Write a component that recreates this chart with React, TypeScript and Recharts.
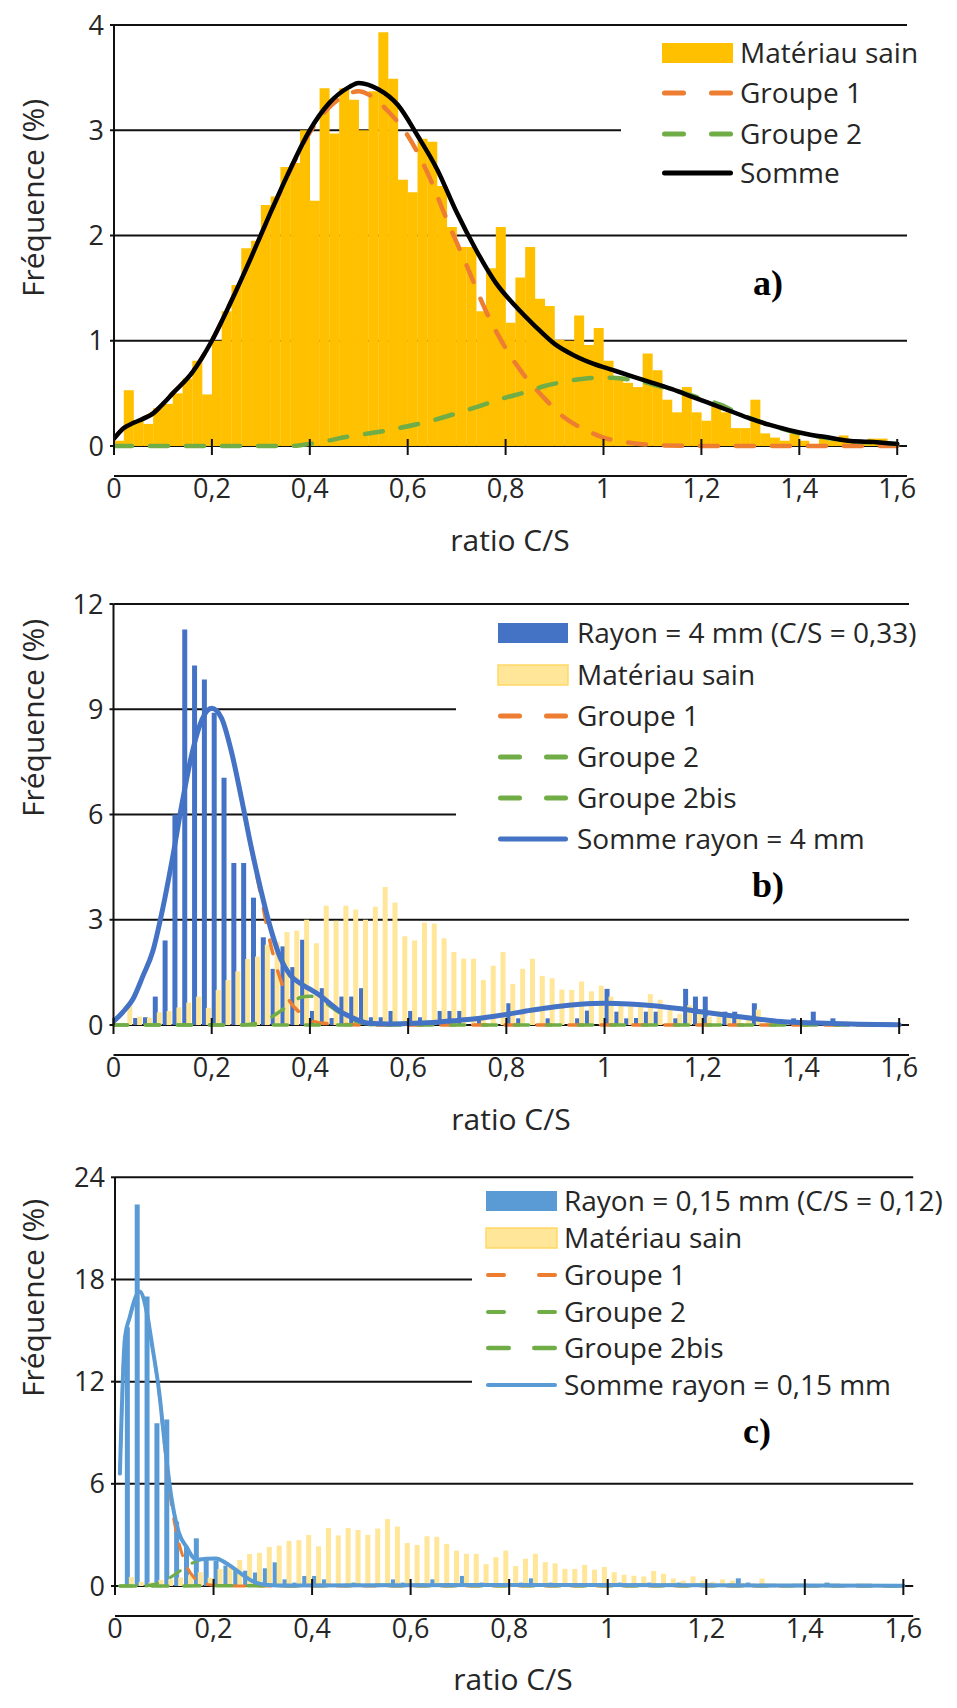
import React from 'react';
import {
  ComposedChart,
  Bar,
  Line,
  XAxis,
  YAxis,
  CartesianGrid,
  Legend,
} from 'recharts';

/* ------------------------------------------------------------------ */
/*  Data                                                               */
/* ------------------------------------------------------------------ */
// bin centres of the C/S histograms (bin width 0.02)
const BINS = [
  0.01, 0.03, 0.05, 0.07, 0.09, 0.11, 0.13, 0.15, 0.17, 0.19,
  0.21, 0.23, 0.25, 0.27, 0.29, 0.31, 0.33, 0.35, 0.37, 0.39,
  0.41, 0.43, 0.45, 0.47, 0.49, 0.51, 0.53, 0.55, 0.57, 0.59,
  0.61, 0.63, 0.65, 0.67, 0.69, 0.71, 0.73, 0.75, 0.77, 0.79,
  0.81, 0.83, 0.85, 0.87, 0.89, 0.91, 0.93, 0.95, 0.97, 0.99,
  1.01, 1.03, 1.05, 1.07, 1.09, 1.11, 1.13, 1.15, 1.17, 1.19,
  1.21, 1.23, 1.25, 1.27, 1.29, 1.31, 1.33, 1.35, 1.37, 1.39,
  1.41, 1.43, 1.45, 1.47, 1.49, 1.51, 1.53, 1.55, 1.57, 1.59,
];
// empty slot so the band axis reaches 1.62 like the numeric one
const PAD_BIN = 1.61;

const SAIN = [
  0.05, 0.53, 0.24, 0.21, 0.36, 0.4, 0.5, 0.64, 0.81, 0.49,
  1.0, 1.28, 1.53, 1.88, 1.95, 2.29, 2.37, 2.65, 2.69, 3.0,
  2.33, 3.4, 2.97, 3.4, 3.29, 3.0, 3.37, 3.93, 3.49, 2.53,
  2.41, 2.92, 2.89, 2.47, 2.08, 1.89, 1.89, 1.28, 1.69, 2.08,
  1.17, 1.6, 1.89, 1.4, 1.33, 1.01, 1.0, 1.24, 0.96, 1.12,
  0.81, 0.66, 0.6, 0.56, 0.88, 0.72, 0.44, 0.32, 0.56, 0.32,
  0.24, 0.39, 0.32, 0.17, 0.17, 0.44, 0.12, 0.08, 0.05, 0.12,
  0.05, 0.02, 0.08, 0.05, 0.1, 0.03, 0.03, 0.07, 0.07, 0.02,
];

const RAYON_4 = [
  0, 0, 0.2, 0.22, 0.81, 2.41, 6.0, 11.27, 10.25, 9.85,
  8.9, 7.05, 4.62, 4.62, 3.63, 2.5, 1.6, 2.24, 1.65, 2.43,
  0.4, 1.05, 0.2, 0.81, 0.81, 1.05, 0.22, 0.22, 0.4, 0,
  0.4, 0.22, 0, 0.4, 0.4, 0.4, 0, 0.2, 0, 0,
  0.62, 0.19, 0, 0, 0.19, 0, 0, 0.19, 0.41, 0,
  1.03, 0.38, 0.19, 0.2, 0.38, 0.38, 0, 0.19, 1.03, 0.81,
  0.81, 0, 0.38, 0.38, 0, 0.62, 0, 0, 0, 0.19,
  0, 0.38, 0, 0.19, 0, 0, 0, 0, 0, 0,
];

const RAYON_015 = [
  0, 15.2, 22.4, 17.0, 9.55, 9.78, 3.78, 2.31, 2.8, 1.6,
  1.5, 1.2, 1.0, 0.9, 0.8, 1.04, 1.39, 0.39, 0.2, 0.59,
  0.59, 0.39, 0, 0, 0.2, 0, 0, 0, 0.39, 0.2,
  0, 0, 0.39, 0, 0, 0.59, 0, 0.2, 0, 0,
  0, 0.2, 0.45, 0, 0.2, 0, 0, 0, 0, 0,
  0, 0.2, 0, 0, 0.2, 0, 0, 0.2, 0, 0,
  0, 0, 0, 0.45, 0.2, 0, 0, 0, 0, 0,
  0, 0, 0.2, 0, 0, 0, 0, 0, 0, 0,
];

type Pt = [number, number];

/* fitted curves, panel a */
const SOMME_A: Pt[] = [
  [0, 0.07], [0.02, 0.17], [0.04, 0.22], [0.06, 0.26], [0.08, 0.31], [0.1, 0.4],
  [0.12, 0.5], [0.16, 0.7], [0.2, 1.0], [0.24, 1.38], [0.28, 1.79], [0.32, 2.22],
  [0.36, 2.63], [0.4, 3.0], [0.44, 3.26], [0.48, 3.41], [0.5, 3.45], [0.54, 3.39],
  [0.58, 3.24], [0.62, 2.95], [0.66, 2.63], [0.7, 2.22], [0.74, 1.86], [0.78, 1.55],
  [0.82, 1.33], [0.86, 1.14], [0.9, 0.97], [0.94, 0.86], [0.98, 0.78], [1.02, 0.72],
  [1.06, 0.66], [1.1, 0.6], [1.14, 0.54], [1.18, 0.47], [1.22, 0.4], [1.26, 0.33],
  [1.3, 0.26], [1.34, 0.2], [1.38, 0.15], [1.42, 0.11], [1.46, 0.08], [1.5, 0.05],
  [1.54, 0.04], [1.6, 0.02],
];
const GROUPE1_A: Pt[] = [
  [0, 0.07], [0.02, 0.17], [0.04, 0.22], [0.06, 0.26], [0.08, 0.31], [0.1, 0.4],
  [0.12, 0.5], [0.16, 0.7], [0.2, 1.0], [0.24, 1.38], [0.28, 1.79], [0.32, 2.21],
  [0.36, 2.62], [0.4, 2.98], [0.44, 3.22], [0.48, 3.35], [0.5, 3.37], [0.52, 3.34],
  [0.56, 3.18], [0.6, 2.95], [0.64, 2.6], [0.68, 2.15], [0.72, 1.72], [0.76, 1.28],
  [0.8, 0.93], [0.84, 0.66], [0.88, 0.45], [0.92, 0.27], [0.96, 0.16], [1.0, 0.08],
  [1.04, 0.04], [1.1, 0.01], [1.2, 0], [1.6, 0],
];
const GROUPE2_A: Pt[] = [
  [0, 0], [0.36, 0], [0.4, 0.02], [0.48, 0.09], [0.56, 0.15], [0.64, 0.23],
  [0.72, 0.34], [0.76, 0.4], [0.8, 0.46], [0.84, 0.51], [0.88, 0.57], [0.92, 0.61],
  [0.96, 0.64], [1.0, 0.65], [1.04, 0.64], [1.08, 0.61], [1.12, 0.56], [1.16, 0.51],
  [1.2, 0.45], [1.24, 0.39], [1.28, 0.3], [1.32, 0.23], [1.36, 0.17], [1.4, 0.12],
  [1.44, 0.09], [1.5, 0.05], [1.6, 0.02],
];

/* panel b */
const SOMME_B: Pt[] = [
  [0, 0.1], [0.02, 0.38], [0.04, 0.75], [0.06, 1.4], [0.08, 2.1], [0.1, 3.3],
  [0.12, 4.75], [0.14, 6.35], [0.16, 7.75], [0.18, 8.7], [0.2, 9.03], [0.22, 8.75],
  [0.24, 7.8], [0.26, 6.5], [0.28, 5.1], [0.3, 3.85], [0.32, 2.75], [0.34, 1.9],
  [0.36, 1.42], [0.38, 1.19], [0.4, 1.02], [0.42, 0.85], [0.44, 0.62], [0.46, 0.4],
  [0.48, 0.25], [0.5, 0.13], [0.52, 0.05], [0.56, 0.03], [0.6, 0.04], [0.65, 0.07],
  [0.7, 0.13], [0.75, 0.2], [0.8, 0.3], [0.85, 0.42], [0.9, 0.52], [0.95, 0.59],
  [1.0, 0.62], [1.05, 0.6], [1.1, 0.55], [1.15, 0.47], [1.2, 0.37], [1.25, 0.28],
  [1.3, 0.19], [1.35, 0.11], [1.4, 0.07], [1.45, 0.05], [1.5, 0.03], [1.6, 0.01],
];
const GROUPE1_B: Pt[] = [
  [0, 0.1], [0.02, 0.38], [0.04, 0.75], [0.06, 1.4], [0.08, 2.1], [0.1, 3.3],
  [0.12, 4.75], [0.14, 6.35], [0.16, 7.75], [0.18, 8.7], [0.2, 9.03], [0.22, 8.75],
  [0.24, 7.8], [0.26, 6.5], [0.28, 5.05], [0.3, 3.7], [0.32, 2.3], [0.34, 1.3],
  [0.36, 0.65], [0.38, 0.35], [0.4, 0.14], [0.42, 0.06], [0.45, 0.03], [0.5, 0],
  [1.6, 0],
];
const GROUPE2_B: Pt[] = [
  [0, 0], [0.26, 0], [0.3, 0.08], [0.33, 0.3], [0.36, 0.6], [0.38, 0.78],
  [0.4, 0.82], [0.42, 0.75], [0.44, 0.55], [0.46, 0.35], [0.48, 0.18], [0.5, 0.08],
  [0.53, 0.02], [0.56, 0], [1.6, 0],
];
const GROUPE2BIS_B: Pt[] = [
  [0, 0], [0.5, 0], [0.55, 0.02], [0.6, 0.04], [0.65, 0.07], [0.7, 0.13],
  [0.75, 0.2], [0.8, 0.3], [0.85, 0.42], [0.9, 0.52], [0.95, 0.59], [1.0, 0.62],
  [1.05, 0.6], [1.1, 0.55], [1.15, 0.47], [1.2, 0.37], [1.25, 0.28], [1.3, 0.19],
  [1.35, 0.11], [1.4, 0.07], [1.45, 0.05], [1.5, 0.03], [1.6, 0.01],
];

/* panel c */
const SOMME_C: Pt[] = [
  [0.01, 6.6], [0.02, 14.5], [0.03, 15.8], [0.05, 17.3], [0.065, 16.0], [0.075, 14.2],
  [0.09, 11.3], [0.1, 8.6], [0.115, 5.1], [0.13, 3.1], [0.145, 2.3], [0.165, 1.55],
  [0.185, 1.6], [0.205, 1.62], [0.225, 1.35], [0.255, 0.74], [0.28, 0.27], [0.31, 0.06],
  [0.35, 0.03], [0.6, 0.05], [0.9, 0.06], [1.2, 0.04], [1.6, 0.02],
];
const GROUPE1_C: Pt[] = [
  [0.01, 6.6], [0.02, 14.5], [0.03, 15.8], [0.05, 17.3], [0.065, 16.0], [0.075, 14.2],
  [0.09, 11.2], [0.1, 8.4], [0.115, 4.7], [0.13, 2.5], [0.145, 1.2], [0.16, 0.5],
  [0.18, 0.15], [0.2, 0.05], [0.25, 0], [1.6, 0],
];
const GROUPE2_C: Pt[] = [
  [0.01, 0], [0.06, 0], [0.08, 0.1], [0.1, 0.3], [0.115, 0.55], [0.13, 0.85],
  [0.145, 1.15], [0.165, 1.45], [0.185, 1.6], [0.205, 1.62], [0.225, 1.35],
  [0.255, 0.74], [0.28, 0.27], [0.31, 0.06], [0.35, 0.01], [1.6, 0],
];
const GROUPE2BIS_C: Pt[] = [
  [0.01, 0], [0.35, 0.02], [0.6, 0.05], [0.9, 0.06], [1.2, 0.04], [1.6, 0.02],
];

const X_TICKS = [0, 0.2, 0.4, 0.6, 0.8, 1, 1.2, 1.4, 1.6];
const Y_TICKS_A = [0, 1, 2, 3, 4];
const Y_TICKS_B = [0, 3, 6, 9, 12];
const Y_TICKS_C = [0, 6, 12, 18, 24];

/* ------------------------------------------------------------------ */
/*  Styles                                                             */
/* ------------------------------------------------------------------ */
const FONT = '"Open Sans", sans-serif';
const INK = '#262626';
const AXIS = '#111';
const GOLD = '#FFC000';
const PALE = '#FFE699';
const PALE_EDGE = '#FFD966';
const ORANGE = '#ED7D31';
const GREEN = '#70AD47';
const BLUE_DARK = '#4472C4';
const BLUE_LIGHT = '#5B9BD5';

const ROWS: Record<string, number | undefined>[] = BINS.map((x, i) => ({
  x,
  sain: SAIN[i],
  r4: RAYON_4[i],
  r015: RAYON_015[i],
}));
ROWS.push({ x: PAD_BIN });

const toPts = (a: Pt[]) => a.map(([x, y]) => ({ x, y }));
const fmt = (v: number) => String(v).replace('.', ',');

/* x tick: cross tick mark + comma decimal label, placed from the axis line */
function XTick(props: any) {
  const { x, payload, axisY } = props;
  return (
    <g>
      <line x1={x} x2={x} y1={axisY - 7} y2={axisY + 9} stroke={AXIS} strokeWidth={2} />
      <text
        x={x}
        y={axisY + 52}
        textAnchor="middle"
        fontFamily={FONT}
        fontSize={27}
        fill={INK}
      >
        {fmt(payload.value)}
      </text>
    </g>
  );
}

/* ------------------------------------------------------------------ */
/*  Legend                                                             */
/* ------------------------------------------------------------------ */
interface LegendItem {
  label: string;
  kind: 'bar' | 'dash' | 'solid';
  color: string;
  border?: string;
  dash?: number;
  width?: number;
}

interface LegendBox {
  left: number;
  top: number;
  width: number;
  height: number;
  swX: number;
  swW: number;
  textX: number;
  rows: number[];
  items: LegendItem[];
}

function LegendBody({ box }: { box: LegendBox }) {
  const { left, top, width, height, swX, swW, textX, rows, items } = box;
  return (
    <svg width={width} height={height} style={{ display: 'block', overflow: 'visible' }}>
      {items.map((it, i) => {
        const cy = rows[i] - top;
        const x0 = swX - left;
        const w = it.width ?? 5;
        let sw: React.ReactNode = null;
        if (it.kind === 'bar') {
          sw = (
            <rect
              x={x0}
              y={cy - 10}
              width={swW}
              height={20}
              fill={it.color}
              stroke={it.border ?? 'none'}
              strokeWidth={it.border ? 1.5 : 0}
            />
          );
        } else if (it.kind === 'dash') {
          const d = it.dash ?? 24;
          sw = (
            <g stroke={it.color} strokeWidth={w} strokeLinecap="round">
              <line x1={x0 + w / 2} x2={x0 + d - w / 2} y1={cy} y2={cy} />
              <line x1={x0 + swW - d + w / 2} x2={x0 + swW - w / 2} y1={cy} y2={cy} />
            </g>
          );
        } else {
          sw = (
            <line
              x1={x0 + w / 2}
              x2={x0 + swW - w / 2}
              y1={cy}
              y2={cy}
              stroke={it.color}
              strokeWidth={w}
              strokeLinecap="round"
            />
          );
        }
        return (
          <g key={it.label}>
            {sw}
            <text
              x={textX - left}
              y={cy + 10}
              fontFamily={FONT}
              fontSize={28}
              fill={INK}
            >
              {it.label}
            </text>
          </g>
        );
      })}
    </svg>
  );
}

/* ------------------------------------------------------------------ */
/*  Panel                                                              */
/* ------------------------------------------------------------------ */
interface BarSpec {
  key: string;
  color: string;
}
interface LineSpec {
  name: string;
  data: Pt[];
  color: string;
  width: number;
  dash?: string;
}

function Panel({
  top,
  height,
  margin,
  yMax,
  yTicks,
  bars,
  lines,
  legend,
}: {
  top: number;
  height: number;
  margin: { top: number; right: number; bottom: number; left: number };
  yMax: number;
  yTicks: number[];
  bars: BarSpec[];
  lines: LineSpec[];
  legend: LegendBox;
}) {
  // svg y of the x axis line (plot bottom)
  const axisY = height - margin.bottom - 60;
  return (
    <div style={{ position: 'absolute', left: 0, top }}>
      <ComposedChart
        width={957}
        height={height}
        data={ROWS}
        margin={margin}
        barCategoryGap={0}
        barGap={bars.length > 1 ? -1 : 0}
      >
        <CartesianGrid xAxisId="num" vertical={false} stroke={AXIS} strokeWidth={2} />
        <XAxis xAxisId="cat" dataKey="x" type="category" hide />
        <XAxis
          xAxisId="num"
          dataKey="x"
          type="number"
          domain={[0, 1.62]}
          ticks={X_TICKS}
          interval={0}
          allowDataOverflow
          height={60}
          tickLine={false}
          tickSize={0}
          tickMargin={0}
          axisLine={{ stroke: AXIS, strokeWidth: 2 }}
          tick={(p: any) => <XTick {...p} axisY={axisY} />}
        />
        <YAxis
          type="number"
          domain={[0, yMax]}
          ticks={yTicks}
          interval={0}
          width={60}
          tickSize={4}
          tickMargin={6}
          tickLine={{ stroke: AXIS, strokeWidth: 2 }}
          axisLine={{ stroke: AXIS, strokeWidth: 2 }}
          tick={{ fill: INK, fontSize: 27, fontFamily: FONT }}
        />
        {bars.map((b) => (
          <Bar
            key={b.key}
            xAxisId="cat"
            dataKey={b.key}
            fill={b.color}
            isAnimationActive={false}
          />
        ))}
        {lines.map((l) => (
          <Line
            key={l.name}
            name={l.name}
            xAxisId="num"
            data={toPts(l.data)}
            dataKey="y"
            type="monotone"
            stroke={l.color}
            strokeWidth={l.width}
            strokeDasharray={l.dash}
            strokeLinecap="round"
            dot={false}
            activeDot={false}
            isAnimationActive={false}
          />
        ))}
        <Legend
          layout="vertical"
          align="center"
          verticalAlign="middle"
          wrapperStyle={{
            position: 'absolute',
            left: legend.left,
            top: legend.top - top,
            width: legend.width,
            height: legend.height,
            background: '#fff',
          }}
          content={() => <LegendBody box={legend} />}
        />
      </ComposedChart>
    </div>
  );
}

/* ------------------------------------------------------------------ */
/*  Legends                                                            */
/* ------------------------------------------------------------------ */
const LEGEND_A: LegendBox = {
  left: 621, top: 30, width: 336, height: 166,
  swX: 662, swW: 71, textX: 740,
  rows: [53, 93, 134, 173],
  items: [
    { label: 'Matériau sain', kind: 'bar', color: GOLD },
    { label: 'Groupe 1', kind: 'dash', color: ORANGE },
    { label: 'Groupe 2', kind: 'dash', color: GREEN },
    { label: 'Somme', kind: 'solid', color: '#000' },
  ],
};

const LEGEND_B: LegendBox = {
  left: 456, top: 612, width: 501, height: 248,
  swX: 498, swW: 70, textX: 577,
  rows: [633, 675, 716, 757, 798, 839],
  items: [
    { label: 'Rayon = 4 mm (C/S = 0,33)', kind: 'bar', color: BLUE_DARK },
    { label: 'Matériau sain', kind: 'bar', color: PALE, border: PALE_EDGE },
    { label: 'Groupe 1', kind: 'dash', color: ORANGE },
    { label: 'Groupe 2', kind: 'dash', color: GREEN },
    { label: 'Groupe 2bis', kind: 'dash', color: GREEN },
    { label: 'Somme rayon = 4 mm', kind: 'solid', color: BLUE_DARK },
  ],
};

const LEGEND_C: LegendBox = {
  left: 472, top: 1184, width: 485, height: 221,
  swX: 486, swW: 71, textX: 564,
  rows: [1201, 1238, 1275, 1312, 1348, 1385],
  items: [
    { label: 'Rayon = 0,15 mm (C/S = 0,12)', kind: 'bar', color: BLUE_LIGHT },
    { label: 'Matériau sain', kind: 'bar', color: PALE, border: PALE_EDGE },
    { label: 'Groupe 1', kind: 'dash', color: ORANGE, dash: 20, width: 4 },
    { label: 'Groupe 2', kind: 'dash', color: GREEN, dash: 20, width: 4 },
    { label: 'Groupe 2bis', kind: 'dash', color: GREEN, dash: 25, width: 4.5 },
    { label: 'Somme rayon = 0,15 mm', kind: 'solid', color: BLUE_LIGHT, width: 4 },
  ],
};

/* ------------------------------------------------------------------ */
/*  Page                                                               */
/* ------------------------------------------------------------------ */
export default function App() {
  return (
    <div
      style={{
        position: 'absolute',
        left: 0,
        top: 0,
        width: 957,
        height: 1708,
        background: '#fff',
        overflow: 'hidden',
      }}
    >
      <Panel
        top={0}
        height={580}
        margin={{ top: 25, right: 50, bottom: 74, left: 54 }}
        yMax={4}
        yTicks={Y_TICKS_A}
        bars={[{ key: 'sain', color: GOLD }]}
        lines={[
          { name: 'Groupe 1', data: GROUPE1_A, color: ORANGE, width: 4.5, dash: '18 18' },
          { name: 'Groupe 2', data: GROUPE2_A, color: GREEN, width: 4.5, dash: '18 18' },
          { name: 'Somme', data: SOMME_A, color: '#000', width: 4.5 },
        ]}
        legend={LEGEND_A}
      />
      <Panel
        top={580}
        height={580}
        margin={{ top: 24, right: 48, bottom: 75, left: 53.5 }}
        yMax={12}
        yTicks={Y_TICKS_B}
        bars={[
          { key: 'r4', color: BLUE_DARK },
          { key: 'sain', color: PALE },
        ]}
        lines={[
          { name: 'Groupe 1', data: GROUPE1_B, color: ORANGE, width: 3.5, dash: '14 18' },
          { name: 'Groupe 2', data: GROUPE2_B, color: GREEN, width: 3.5, dash: '14 18' },
          { name: 'Groupe 2bis', data: GROUPE2BIS_B, color: GREEN, width: 3.5, dash: '14 18' },
          { name: 'Somme rayon = 4 mm', data: SOMME_B, color: BLUE_DARK, width: 5 },
        ]}
        legend={LEGEND_B}
      />
      <Panel
        top={1140}
        height={568}
        margin={{ top: 37.3, right: 43.8, bottom: 62, left: 55 }}
        yMax={24}
        yTicks={Y_TICKS_C}
        bars={[
          { key: 'r015', color: BLUE_LIGHT },
          { key: 'sain', color: PALE },
        ]}
        lines={[
          { name: 'Groupe 1', data: GROUPE1_C, color: ORANGE, width: 3, dash: '12 14' },
          { name: 'Groupe 2', data: GROUPE2_C, color: GREEN, width: 3, dash: '12 14' },
          { name: 'Groupe 2bis', data: GROUPE2BIS_C, color: GREEN, width: 3.5, dash: '16 16' },
          { name: 'Somme rayon = 0,15 mm', data: SOMME_C, color: BLUE_LIGHT, width: 4 },
        ]}
        legend={LEGEND_C}
      />

      {/* axis titles and panel letters */}
      <svg
        width={957}
        height={1708}
        style={{ position: 'absolute', left: 0, top: 0, pointerEvents: 'none' }}
      >
        <g fontFamily={FONT} fontSize={30} fill={INK} textAnchor="middle">
          <text x={510} y={551}>ratio C/S</text>
          <text x={511} y={1130}>ratio C/S</text>
          <text x={513} y={1690}>ratio C/S</text>
          <text transform="translate(44,198) rotate(-90)">Fréquence (%)</text>
          <text transform="translate(44,718) rotate(-90)">Fréquence (%)</text>
          <text transform="translate(44,1298) rotate(-90)">Fréquence (%)</text>
        </g>
        <g fontFamily='"Liberation Serif", serif' fontWeight="bold" fontSize={36} fill="#000">
          <text x={753} y={295}>a)</text>
          <text x={752} y={897}>b)</text>
          <text x={743} y={1443}>c)</text>
        </g>
      </svg>
    </div>
  );
}
